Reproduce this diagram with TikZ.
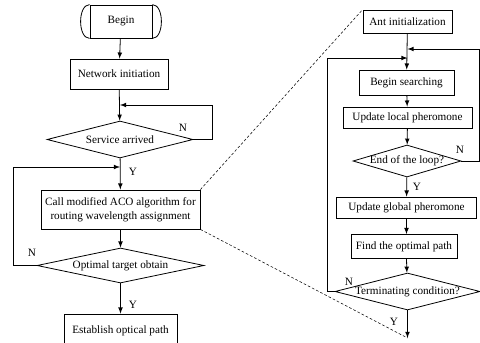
\documentclass[tikz,border=0pt]{standalone}
\usepackage{fontspec}
\setmainfont{Liberation Serif}
\usetikzlibrary{shapes.geometric}

\begin{document}
\begin{tikzpicture}[x=0.75pt, y=-0.75pt, line width=0.6pt,
        font=\fontsize{8.4}{10.75}\selectfont,
        procbox/.style={draw, rectangle, inner sep=0pt, align=center},
        decision/.style={draw, diamond, inner sep=0pt},
        flowlabel/.style={inner sep=0pt}]

        \useasboundingbox (0,0) rectangle (480,343);

        % Main flow
        \node[procbox, minimum width=46.5pt, minimum height=24.75pt] (begin) at (121,21.5) {Begin};
        \draw (begin.north west) .. controls +(-12,0) and +(-12,0) .. (begin.south west);
        \draw (begin.north east) .. controls +(12,0) and +(12,0) .. (begin.south east);
        \node[procbox, minimum width=73.5pt, minimum height=22.5pt] (net) at (119,74) {Network initiation};
        \node[decision, minimum width=109.5pt, minimum height=27.75pt] (serv) at (120,139.5) {\makebox[0pt]{Service arrived}};
        \node[procbox, minimum width=119.25pt, minimum height=29.25pt] (call) at (120.5,209.5) {Call modified ACO algorithm for\\routing wavelength assignment};
        \node[decision, minimum width=125.25pt, minimum height=26.25pt] (opt) at (120.5,265.5) {\makebox[0pt]{Optimal target obtain}};
        \node[procbox, minimum width=84.75pt, minimum height=25.5pt] (est) at (120.5,331) {Establish optical path};

        \draw[-latex] (begin) -- (net);
        \draw[-latex] (net) -- (serv);
        \draw[-latex] (serv) -- (call);
        \draw[-latex] (call) -- (opt);
        \draw[-latex] (opt) -- (est);

        % loops
        \draw[-latex] (serv.east) -- (212,139.5) -- (212,105) -- (120,105);
        \draw[-latex] (opt.west) -- (13,265.5) -- (13,167) -- (120,167);
        \node[flowlabel] (nserv) at (183,128) {N};
        \node[flowlabel] (yserv) at (133,172) {Y};
        \node[flowlabel] (nopt) at (32,253) {N};
        \node[flowlabel] (yopt) at (133,305) {Y};

        % ACO detail
        \node[procbox, minimum width=66.75pt, minimum height=17.25pt] (ant) at (407.5,21.5) {Ant initialization};
        \node[procbox, minimum width=71.25pt, minimum height=18.75pt] (search) at (406.5,82.5) {Begin searching};
        \node[procbox, minimum width=96.75pt, minimum height=15.75pt] (local) at (407.5,117.5) {Update local pheromone};
        \node[decision, minimum width=81pt, minimum height=24pt] (endloop) at (407,161) {\makebox[0pt]{End of the loop?}};
        \node[procbox, minimum width=105pt, minimum height=15.75pt] (global) at (406.5,207.5) {Update global pheromone};
        \node[procbox, minimum width=79.5pt, minimum height=18pt] (find) at (404,246.5) {Find the optimal path};
        \node[decision, minimum width=108.75pt, minimum height=27.75pt] (term) at (407.5,291.5) {\makebox[0pt]{Terminating condition?}};
        \coordinate (tend) at (407.5,338);

        \draw[-latex] (ant) -- (search);
        \draw[-latex] (search) -- (local);
        \draw[-latex] (local) -- (endloop);
        \draw[-latex] (endloop) -- (global);
        \draw[-latex] (global.south) -- (global.south |- find.north);
        \draw[-latex] (global.south |- find.south) -- (term);
        \draw[-latex] (term) -- (tend);

        % loops
        \draw[-latex] (endloop.east) -- (479.6,161) -- (479.6,49) -- (407.5,49);
        \draw[-latex] (term.west) -- (327.5,291.5) -- (327.5,58) -- (407.5,58);
        \node[flowlabel] (nend) at (460,150) {N};
        \node[flowlabel] (yend) at (417,187) {Y};
        \node[flowlabel] (nterm) at (349,282) {N};
        \node[flowlabel] (yterm) at (394,322) {Y};

        % zoom lines
        \draw[dashed, line width=0.4pt, dash pattern=on 2pt off 1.5pt] (call.north east) -- (ant.north west);
        \draw[dashed, line width=0.4pt, dash pattern=on 2pt off 1.5pt] (call.south east) -- (tend);
    \end{tikzpicture}
\end{document}
